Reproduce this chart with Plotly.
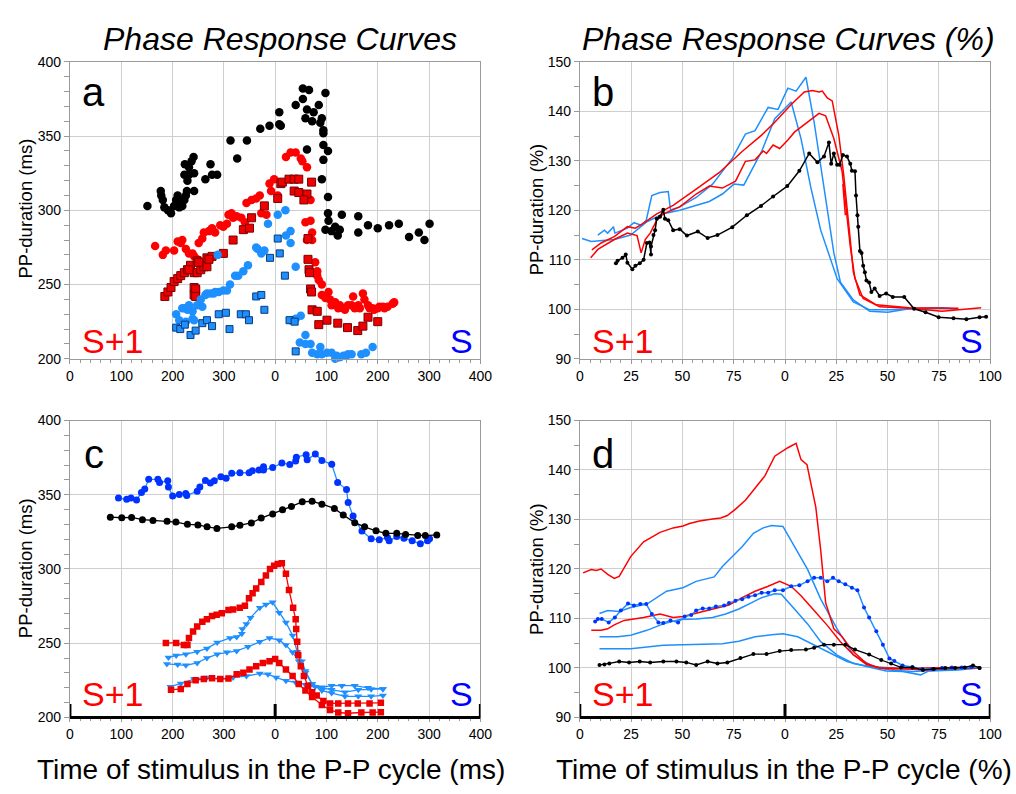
import plotly.graph_objects as go

W, H = 1016, 794

# ---------------- Panel a (scatter, ms) ----------------
a_black_x = [151,177,178,181,184,191,197,203,207,210,213,219,223,226,228,229,223,232,237,241,242,232,224,242,216,264,274,277,287,313,345,326,371,389,408,408,411,440,454,466,498,454,485,462,475,459,472,491,488,494,494,494,503,462,494,491,503,503,504,530,562,498,510,517,526,522,562,581,600,622,641,661,680,691,701]
a_black_y = [303,313,310,307,302,300,298,303,307,310,302,303,307,310,313,320,324,329,333,336,325,324,331,313,307,321,331,324,324,347,347,335,355,357,358,366,357,371,382,381,379,375,371,368,366,362,360,362,359,354,352,344,340,341,334,321,309,298,293,297,296,287,286,289,287,283,285,290,288,290,291,282,285,280,291]

a_redc_x = [166,181,187,203,210,219,216,226,232,239,242,248,251,258,261,271,277,283,293,299,306,309,315,318,325,334,341,344,354,363,370,373,383,392,389,398,405,421,430,440,450,453,462,459,469,472,462,472,469,478,482,482,485,491,491,504,507,517,526,533,542,552,555,565,571,574,581,590,600,610,619,629,632,498,510,523,536,549,562,584,593,603,613]
a_redc_y = [276,270,273,273,279,280,278,274,271,271,269,267,278,281,285,286,288,285,290,289,291,297,298,295,296,295,292,305,307,308,310,298,297,313,318,321,310,336,339,339,335,333,329,292,293,285,280,280,307,265,259,256,253,250,243,245,240,238,236,234,236,242,234,234,244,240,236,234,234,235,235,237,238,241,236,234,233,236,236,234,233,235,234]

a_reds_x = [185,191,197,203,210,216,223,229,235,242,248,255,261,267,248,267,277,299,318,338,350,354,379,405,411,414,427,437,446,471,437,446,462,456,464,464,466,467,469,471,472,482,485,501,522,541,561,571,581,600,242,245,242,251,271,232,245,245]
a_reds_y = [242,245,248,252,254,256,258,260,263,258,258,260,262,262,266,268,269,271,280,287,288,295,303,308,318,319,321,321,321,319,313,312,311,307,281,267,260,258,247,245,233,232,223,226,224,221,219,222,228,225,248,246,243,265,267,260,247,242]

a_bluec_x = [207,223,232,239,248,255,264,274,283,290,299,312,328,338,347,366,379,386,405,420,421,430,430,288,239,226,242,213,219,229,258,267,280,306,322,363,373,440,430,440,450,459,448,469,488,472,482,491,501,510,520,533,542,549,568,577,590,459,517,526,539]
a_bluec_y = [230,234,236,232,236,240,243,244,245,245,246,250,256,259,263,274,273,291,297,300,283,286,278,270,227,225,226,226,234,233,235,244,244,246,256,275,271,262,226,227,229,216,211,210,208,204,203,203,204,204,202,202,203,203,203,204,208,210,200,201,202]

a_blues_x = [207,215,224,235,245,258,267,277,290,304,311,333,343,349,363,373,379,390,405,409,419,428,438,440,458,471,478,530,536,542,555,571,578]
a_blues_y = [221,220,223,216,219,224,226,222,230,231,220,230,230,226,242,243,233,268,281,271,256,226,225,205,193,193,191,189,188,188,187,190,191]

# ---------------- Panel b (lines, %) ----------------
b_blue1_x = [8.8,12.0,13.6,16.4,17.1,23.2,26.4,29.9,32.4,35.1,39.1,43.1,44.2,48.7,56.7,64.7,74.3,80.7,85.4,91.8,96.6,101.4,105.4,110.2,114.2,119.0,123.8,127.0,133.3,141.3,150.1,160.5,176.5,184.5]
b_blue1_y = [115.0,116.0,115.4,116.7,115.4,116.4,117.5,117.0,118.0,123.0,123.6,123.8,120.1,120.7,122.6,125.3,130.5,135.4,136.1,140.8,140.4,144.7,144.1,146.9,137.8,124.6,111.4,105.5,101.9,99.6,99.4,100.1,100.3,100.0]
b_blue2_x = [1.1,5.6,16.8,24.8,32.7,40.7,48.7,63.1,69.5,75.1,79.9,88.6,95.0,103.0,107.8,112.6,117.4,125.4,133.3,141.3,152.5,168.5,182.9]
b_blue2_y = [114.3,113.7,114.1,115.0,117.7,119.3,120.0,121.8,123.3,125.3,125.1,131.9,138.5,141.9,134.5,124.6,116.0,106.2,101.5,99.9,99.9,100.2,100.1]
b_red1_x = [5.9,10.4,16.8,23.2,27.1,31.1,37.5,45.5,56.7,67.9,79.1,88.6,95.0,103.0,109.4,113.4,116.6,118.2,120.6,123.0,126.2,128.6,131.8,133.3,136.5,144.5,160.5,176.5,184.5]
b_red1_y = [112.0,113.4,114.7,116.7,116.4,117.4,119.3,121.0,124.3,127.6,131.9,135.2,137.8,141.4,143.9,144.2,143.9,144.1,142.7,142.1,135.2,127.2,114.1,107.5,102.9,100.9,100.3,100.2,100.2]
b_red2_x = [5.3,8.8,16.8,23.2,27.9,29.9,31.9,34.3,37.5,40.7,48.7,56.7,63.1,69.5,75.9,80.7,85.4,89.4,91.0,94.2,97.4,101.4,104.6,111.0,116.6,119.8,123.8,127.8,131.8,134.1,138.1,146.1,160.5,176.5,195.6]
b_red2_y = [110.4,112.1,114.1,115.4,114.9,111.4,114.1,115.4,118.0,119.3,120.7,123.3,124.9,124.5,125.9,129.9,130.2,132.0,131.5,133.2,132.5,134.2,135.8,137.8,139.6,139.1,134.5,127.9,112.7,106.2,102.2,100.5,100.2,99.6,100.3]
b_red3_x = [128.2,129.4]
b_red3_y = [125.3,119.0]
b_black_x = [17.6,18.4,20.8,22.4,23.2,25.6,27.1,29.2,31.1,32.7,34.0,34.7,34.7,35.9,36.7,37.5,39.1,40.7,41.5,43.1,45.5,48.7,52.2,57.5,62.3,67.1,74.3,81.4,88.3,94.2,101.1,107.0,111.8,115.8,119.0,121.4,122.5,123.8,125.4,126.6,128.2,130.2,131.8,132.6,134.1,134.6,135.3,135.7,136.5,137.3,138.1,138.9,139.7,141.0,142.1,143.7,146.1,149.3,152.5,158.1,162.9,168.5,174.9,182.1,188.4,194.8,198.0]
b_black_y = [109.3,109.8,110.4,111.1,109.4,108.1,108.8,109.3,110.0,113.4,113.5,111.1,112.7,115.0,116.0,118.3,118.7,120.1,118.3,118.0,116.0,116.2,114.9,115.7,114.4,115.0,116.6,119.0,120.9,122.8,124.9,128.0,131.5,129.7,130.9,133.7,129.4,131.5,129.2,129.2,131.2,130.9,129.4,128.0,127.9,123.0,119.0,116.7,111.8,111.4,108.8,107.5,105.8,105.4,103.5,104.2,102.7,103.2,102.5,102.5,100.1,99.4,98.4,98.2,98.0,98.4,98.5]

# ---------------- Panel c (lines with markers, ms) ----------------
c_blue_x = [94.6,110.6,119,129.8,139.4,145.8,153.5,171.4,174.6,190.6,191.9,200.2,213,225.7,227.7,248,253.2,264.1,273.7,281.4,294.2,304.4,315.3,331.3,349.2,355.6,368.4,377.3,377.3,395.2,413.1,428.5,440,441.3,460.4,462.4,478.3,491.1,510.3,521.8,539.1,542.3,551.9,569.2,587.1,603,619,622.2,637,651,667,683,697,700.9]
c_blue_y = [347.8,346.9,347.8,346.5,351.5,353.9,360.4,360.4,358.3,359.4,355.2,349.1,350.2,350.8,349.5,352.4,355.3,359.6,357.9,359.4,362.2,361.1,364.4,364.8,364.8,366.1,366.6,368.8,366.6,368.3,371.4,370.3,372.7,375.3,377.0,373.5,377.5,373.1,370.5,358.3,353.5,344.7,335.6,325.5,320.3,319.6,321.2,319.0,321.8,320.7,319.0,317.0,319.0,320.3]
c_black_x = [78.7,101,120.2,141.3,161.8,189.3,206.6,229,249.4,267.3,286.5,315.3,331.3,353.6,372.8,395.2,414.4,431.7,452.8,472,491.1,515.4,532.7,555.1,574.3,596.6,615.8,637,654.2,677.9,692.6,715]
c_black_y = [334.9,334.5,334.7,333.2,332.7,332.1,331.6,330.1,329.7,328.4,327.3,328.4,329.4,331.0,334.3,337.1,339.9,342.1,345.2,345.6,343.6,340.8,336.4,331.2,328.4,325.7,324.0,324.0,323.3,322.5,322.5,322.9]
c_red1_x = [187,207,222,229,232,240,248,258,267,277,286,296,309,318,331,341,349,356,363,373,382,390,398,405,413,421,427,435,440,441,443,445,450,456,464,472,481,494,507,523,542,561,584,606]
c_red1_y = [250.2,250.2,248.7,248.7,253.5,257.8,261.3,264.4,266.1,268.3,269.2,270.1,272.3,272.7,273.8,275.3,280.3,283.6,286.9,291.2,295.6,300.0,302.2,303.3,303.9,296.7,285.8,273.8,266.1,259.6,250.9,242.1,234.5,227.9,221.4,217.0,214.8,211.1,209.4,209.4,209.4,209.4,209.4,209.8]
c_red2_x = [197,216,229,245,261,277,293,309,325,338,350,363,376,389,400,408,421,434,446,459,472,491,507,523,542,568,590,606]
c_red2_y = [218.6,219.2,222.5,225.1,225.8,226.4,225.8,226.2,229.0,230.1,232.3,234.5,236.7,237.8,239.3,236.7,232.3,227.9,222.5,218.1,213.8,208.3,205.0,203.3,202.8,203.3,203.3,203.5]
c_tri1_x = [192,207,226,248,267,287,312,325,335,336,344,352,370,382,395,408,421,434,443,452,459,472,491,510,530,555,581,610]
c_tri1_y = [240.4,241.7,242.6,244.3,246.5,250.4,253.5,254.1,256.3,259.6,262.9,267.2,273.8,276.0,277.5,270.5,264.0,255.2,244.3,237.8,231.2,222.5,220.3,221.4,221.4,221.4,219.9,219.2]
c_tri2_x = [189,210,226,248,267,287,306,325,347,370,389,408,421,434,446,459,472,491,510,536,562,587,610]
c_tri2_y = [236.0,235.6,235.1,236.7,240.0,242.6,243.9,244.8,247.6,250.9,253.5,252.0,248.7,243.9,237.8,230.1,222.5,218.1,216.4,214.2,214.2,214.2,214.8]
c_tri3_x = [196,216,242,267,293,318,344,370,386,402,421,440,459,478,491,510,536,562,587,610]
c_tri3_y = [220.7,222.9,225.8,226.9,225.8,226.9,227.9,229.5,229.0,226.9,224.7,223.6,222.0,220.7,219.9,218.6,217.0,218.6,219.0,219.2]

# ---------------- Panel d (lines, %) ----------------
d_red1_x = [1.6,5.6,8.0,10.4,13.6,16.8,19.2,21.6,24.8,31.1,34.3,39.1,45.5,50.3,53.5,58.3,64.7,68.7,71.9,75.9,80.7,85.4,90.2,95.0,98.2,101.4,105.4,107.8,110.7,115.0,117.4,119.8,123.8,127.8,133.3,139.7,146.1,152.5,168.5,184.5,194.8]
d_red1_y = [119.2,119.9,119.7,120.0,118.9,118.1,118.5,120.2,122.5,125.5,126.2,127.4,128.3,128.7,129.2,129.7,130.1,130.3,130.8,132.1,133.9,136.4,138.8,142.8,143.7,144.5,145.4,142.1,141.1,132.5,123.8,113.2,107.9,106.3,103.3,100.9,100.0,99.8,100.0,100.1,100.2]
d_red2_x = [5.6,10.4,13.6,16.8,21.6,31.1,39.1,45.5,50.3,56.7,64.7,72.7,79.1,85.4,91.8,97.4,103.0,107.8,114.2,120.6,127.0,133.3,139.7,146.1,152.5,168.5,184.5,194.8]
d_red2_y = [107.6,107.6,107.9,108.7,109.6,110.2,110.9,110.2,110.4,111.1,111.9,112.7,114.2,115.5,116.5,117.5,116.5,114.6,111.6,108.6,105.3,102.7,100.7,100.0,100.0,99.6,100.0,100.0]
d_blue1_x = [9.6,13.6,19.2,24.8,32.7,42.3,50.3,56.7,65.5,69.5,79.1,84.6,89.4,93.4,99.0,104.6,111.0,117.4,125.4,133.3,142.9,150.9,162.1,176.5,194.0]
d_blue1_y = [111.0,111.6,111.4,112.2,112.9,115.5,116.2,117.5,118.4,120.5,124.5,127.2,128.3,128.8,128.6,124.5,119.9,113.9,107.9,102.6,100.3,99.6,99.3,99.6,100.0]
d_blue2_x = [9.6,18.4,24.8,32.7,40.7,48.7,56.7,64.7,71.1,77.5,83.8,88.6,95.0,98.2,104.6,111.0,117.4,125.4,133.3,141.3,152.5,168.5,194.0]
d_blue2_y = [106.3,106.3,106.6,107.6,108.9,109.8,109.9,110.2,110.9,111.9,113.2,114.2,115.0,114.9,111.9,108.9,105.3,102.6,100.9,100.3,100.0,99.6,100.0]
d_blue3_x = [9.6,24.8,40.7,56.7,69.5,77.5,85.4,93.4,99.0,106.2,114.2,122.2,130.2,139.7,149.3,157.3,166.1,170.1,184.5,194.0]
d_blue3_y = [103.9,103.9,104.6,104.7,104.9,105.4,106.3,106.7,106.9,106.3,104.6,102.9,101.3,100.3,99.4,99.3,98.6,99.4,99.6,100.0]
d_bluedot_x = [7.5,8.8,10.7,14.1,17.1,20.0,23.5,26.4,29.5,32.4,35.1,38.3,40.7,44.2,47.9,51.1,54.3,56.7,59.9,63.1,66.3,70.3,72.7,75.9,79.1,82.2,85.4,88.6,91.8,95.0,99.0,103.0,107.0,111.0,114.2,117.4,120.6,123.4,126.2,129.4,132.6,135.3,138.5,141.0,144.5,147.7,150.9,153.3,157.3,162.1,166.9,171.7,176.5,181.3,186.1,190.8,194.8]
d_bluedot_y = [109.4,109.9,109.9,109.2,110.2,111.6,113.0,112.6,112.9,112.9,110.9,109.2,109.1,109.6,109.2,110.4,110.7,111.6,112.0,112.0,112.4,112.6,113.1,113.6,113.9,114.4,114.7,115.2,115.2,115.7,115.7,116.5,116.7,117.5,118.2,118.2,117.5,118.2,117.5,116.9,116.2,115.7,112.2,110.2,107.4,104.7,101.9,101.4,100.5,100.2,99.8,99.8,100.0,100.1,100.1,100.2,100.0]
d_black_x = [9.6,12.0,14.4,19.2,24.0,29.2,34.3,40.7,47.1,51.9,56.7,62.3,67.1,71.9,78.3,84.6,91.0,97.4,103.0,110.2,114.2,119.0,123.8,129.4,134.1,141.0,146.9,151.7,156.5,162.1,167.2,172.5,178.1,182.9,187.6,191.6,194.8]
d_black_y = [100.6,100.7,100.9,101.3,101.1,101.3,101.1,101.3,101.3,101.1,100.6,101.3,100.9,101.1,102.0,102.8,102.8,103.4,103.6,103.7,104.1,104.7,104.7,104.7,103.7,102.7,101.6,100.9,100.1,100.1,99.6,99.8,100.0,100.0,100.1,100.5,100.0]

# ---------------- axis ticks ----------------
ms_tickvals = [0, 100, 200, 300, 400, 500, 600, 700, 800]
ms_ticktext = ['0', '100', '200', '300', '0', '100', '200', '300', '400']
pc_tickvals = [0, 25, 50, 75, 100, 125, 150, 175, 200]
pc_ticktext = ['0', '25', '50', '75', '0', '25', '50', '75', '100']

FONT = "Liberation Sans, Arial, sans-serif"
RED = '#ff0000'
BLUE = '#1e8fff'
DBLUE = '#0033ff'


def px(x):
    return x / W


def py(y):
    return 1 - y / H


fig = go.Figure()

# panel a
fig.add_trace(go.Scatter(x=a_black_x, y=a_black_y, mode='markers', xaxis='x', yaxis='y',
                         marker=dict(symbol='circle', size=8.5, color='black'), cliponaxis=False))
fig.add_trace(go.Scatter(x=a_redc_x, y=a_redc_y, mode='markers', xaxis='x', yaxis='y',
                         marker=dict(symbol='circle', size=8.5, color=RED), cliponaxis=False))
fig.add_trace(go.Scatter(x=a_reds_x, y=a_reds_y, mode='markers', xaxis='x', yaxis='y',
                         marker=dict(symbol='square', size=8, color='#ee0000',
                                     line=dict(color='#7a0000', width=1)), cliponaxis=False))
fig.add_trace(go.Scatter(x=a_bluec_x, y=a_bluec_y, mode='markers', xaxis='x', yaxis='y',
                         marker=dict(symbol='circle', size=8.5, color=BLUE), cliponaxis=False))
fig.add_trace(go.Scatter(x=a_blues_x, y=a_blues_y, mode='markers', xaxis='x', yaxis='y',
                         marker=dict(symbol='square', size=7, color=BLUE,
                                     line=dict(color='#0a3a7a', width=1)), cliponaxis=False))

# panel b
for xs, ys, col in [(b_blue1_x, b_blue1_y, BLUE), (b_blue2_x, b_blue2_y, BLUE),
                    (b_red1_x, b_red1_y, RED), (b_red2_x, b_red2_y, RED), (b_red3_x, b_red3_y, RED)]:
    fig.add_trace(go.Scatter(x=xs, y=ys, mode='lines', xaxis='x2', yaxis='y2',
                             line=dict(color=col, width=1.5)))
fig.add_trace(go.Scatter(x=b_black_x, y=b_black_y, mode='lines+markers', xaxis='x2', yaxis='y2',
                         line=dict(color='black', width=1.5), marker=dict(size=4, color='black')))

# panel c
fig.add_trace(go.Scatter(x=c_blue_x, y=c_blue_y, mode='lines+markers', xaxis='x3', yaxis='y3',
                         line=dict(color=BLUE, width=1.3), marker=dict(size=7, color=DBLUE)))
fig.add_trace(go.Scatter(x=c_black_x, y=c_black_y, mode='lines+markers', xaxis='x3', yaxis='y3',
                         line=dict(color='black', width=1.3), marker=dict(size=7, color='black')))
for xs, ys in [(c_tri1_x, c_tri1_y), (c_tri2_x, c_tri2_y), (c_tri3_x, c_tri3_y)]:
    fig.add_trace(go.Scatter(x=xs, y=ys, mode='lines+markers', xaxis='x3', yaxis='y3',
                             line=dict(color=BLUE, width=1.3),
                             marker=dict(symbol='triangle-down', size=7, color=BLUE)))
for xs, ys in [(c_red1_x, c_red1_y), (c_red2_x, c_red2_y)]:
    fig.add_trace(go.Scatter(x=xs, y=ys, mode='lines+markers', xaxis='x3', yaxis='y3',
                             line=dict(color=RED, width=1.3),
                             marker=dict(symbol='square', size=6.5, color='#ee0000')))

# panel d
for xs, ys, col in [(d_blue1_x, d_blue1_y, BLUE), (d_blue2_x, d_blue2_y, BLUE),
                    (d_blue3_x, d_blue3_y, BLUE), (d_red2_x, d_red2_y, RED), (d_red1_x, d_red1_y, RED)]:
    fig.add_trace(go.Scatter(x=xs, y=ys, mode='lines', xaxis='x4', yaxis='y4',
                             line=dict(color=col, width=1.5)))
fig.add_trace(go.Scatter(x=d_bluedot_x, y=d_bluedot_y, mode='lines+markers', xaxis='x4', yaxis='y4',
                         line=dict(color=BLUE, width=1.5), marker=dict(size=4, color=DBLUE)))
fig.add_trace(go.Scatter(x=d_black_x, y=d_black_y, mode='lines+markers', xaxis='x4', yaxis='y4',
                         line=dict(color='black', width=1.3), marker=dict(size=4, color='black')))

tickfont = dict(family=FONT, size=14, color='black')
GRID = '#cfcfcf'
LINE = '#9a9a9a'


def xaxis(dom, anchor, vals, texts, rng, minor_dt):
    return dict(domain=dom, anchor=anchor, range=rng, tickvals=vals, ticktext=texts,
                showgrid=True, gridcolor=GRID, gridwidth=1, zeroline=False,
                showline=True, linecolor=LINE, linewidth=1, mirror=True,
                ticks='outside', ticklen=4, tickcolor=LINE, tickfont=tickfont,
                minor=dict(ticks='outside', ticklen=3, tickcolor=LINE, dtick=minor_dt, showgrid=False),
                fixedrange=True)


def yaxis(dom, anchor, rng, dt, minor_dt):
    return dict(domain=dom, anchor=anchor, range=rng, dtick=dt, tick0=rng[0],
                showgrid=True, gridcolor=GRID, gridwidth=1, zeroline=False,
                showline=True, linecolor=LINE, linewidth=1, mirror=True,
                ticks='outside', ticklen=5, tickcolor=LINE, tickfont=tickfont,
                minor=dict(ticks='outside', ticklen=5, tickcolor=LINE, dtick=minor_dt, showgrid=False),
                fixedrange=True)


XL = [px(67), px(484)]
XR = [px(585), px(1002)]
YT = [py(358), py(55)]
YB = [py(724), py(421)]

layout = dict(
    width=W, height=H, margin=dict(l=0, r=0, t=0, b=0),
    paper_bgcolor='white', plot_bgcolor='white', showlegend=False,
    xaxis=xaxis(XL, 'y', ms_tickvals, ms_ticktext, [0, 800], 20),
    yaxis=yaxis(YT, 'x', [200, 400], 50, 10),
    xaxis2=xaxis(XR, 'y2', pc_tickvals, pc_ticktext, [0, 200], 5),
    yaxis2=yaxis(YT, 'x2', [90, 150], 10, 5),
    xaxis3=xaxis(XL, 'y3', ms_tickvals, ms_ticktext, [0, 800], 20),
    yaxis3=yaxis(YB, 'x3', [200, 400], 50, 10),
    xaxis4=xaxis(XR, 'y4', pc_tickvals, pc_ticktext, [0, 200], 5),
    yaxis4=yaxis(YB, 'x4', [90, 150], 10, 5),
)
fig.update_layout(**layout)

# thick black baseline with end/middle ticks for panels c and d
shapes = []
for xr, yr, xmax in [('x3', 'y3 domain', 800), ('x4', 'y4 domain', 200)]:
    shapes.append(dict(type='line', xref=xr, yref=yr, x0=0, x1=xmax, y0=0, y1=0,
                       line=dict(color='black', width=3), layer='above'))
    for xv in [0, xmax / 2, xmax]:
        shapes.append(dict(type='line', xref=xr, yref=yr, x0=xv, x1=xv, y0=0, y1=0.045,
                           line=dict(color='black', width=3), layer='above'))
fig.update_layout(shapes=shapes)

ann = []


def text(x, y, s, size, color='black', italic=False, angle=0, xanchor='center'):
    ann.append(dict(x=px(x), y=py(y), xref='paper', yref='paper', text=s, showarrow=False,
                    xanchor=xanchor, yanchor='middle', textangle=angle,
                    font=dict(family=FONT, size=size, color=color,
                              style='italic' if italic else 'normal')))


text(280, 32, 'Phase Response Curves', 32, italic=True)
text(797, 32, 'Phase Response Curves (%)', 32, italic=True)
text(271, 777, 'Time of stimulus in the P-P cycle (ms)', 28)
text(792, 777, 'Time of stimulus in the P-P cycle (%)', 28)
text(22, 205, 'PP-duration (ms)', 18.5, angle=-90)
text(541, 205, 'PP-duration (%)', 18.5, angle=-90)
text(22, 572, 'PP-duration (ms)', 18.5, angle=-90)
text(541, 572, 'PP-duration (%)', 18.5, angle=-90)
for (lx, ly, letter) in [(91, 86, 'a'), (609, 86, 'b'), (91, 455, 'c'), (609, 455, 'd')]:
    text(lx, ly, letter, 40)
for (sx, ex, yy) in [(77, 479, 340), (595, 997, 340), (77, 479, 700), (595, 997, 700)]:
    text(sx, yy, 'S+1', 34, color=RED, xanchor='left')
    text(ex, yy, 'S', 34, color='#0000ff', xanchor='right')

fig.update_layout(annotations=ann)
fig.write_html('out.html')
